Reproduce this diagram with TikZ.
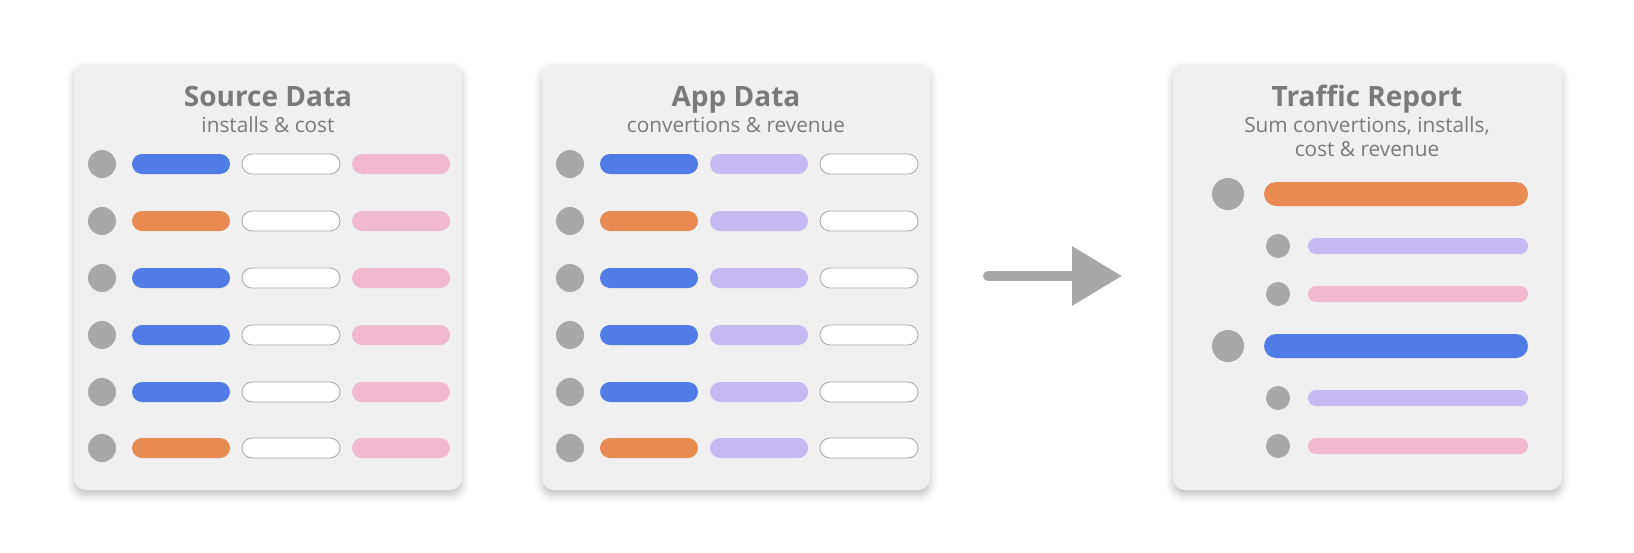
\documentclass[tikz,border=0pt]{standalone}
\usepackage{fontspec}
\setmainfont{Open Sans}
\usetikzlibrary{arrows.meta,shadows.blur}

\definecolor{panelbg}{HTML}{F0F0F0}
\definecolor{dotgray}{HTML}{A8A8A8}
\definecolor{textgray}{HTML}{7A7A7A}
\definecolor{barblue}{HTML}{517CE6}
\definecolor{barorange}{HTML}{E88A52}
\definecolor{barpink}{HTML}{F0B9CE}
\definecolor{barlilac}{HTML}{C4B9F0}

\tikzset{
  panel/.style={fill=panelbg, rounded corners=6pt,
    blur shadow={shadow xshift=0pt, shadow yshift=-2.5pt, shadow blur radius=4pt, shadow opacity=25}},
  title/.style={anchor=base, text=textgray, font=\fontsize{14}{17}\selectfont\bfseries, inner sep=0pt},
  subtitle/.style={anchor=base, text=textgray, font=\fontsize{10.4}{12}\selectfont, inner sep=0pt, align=center},
  dot/.style={circle, fill=dotgray, minimum size=14pt, inner sep=0pt},
  bigdot/.style={circle, fill=dotgray, minimum size=16pt, inner sep=0pt},
  smalldot/.style={circle, fill=dotgray, minimum size=12pt, inner sep=0pt},
  pill/.style={fill=#1, minimum width=49pt, minimum height=10pt, rounded corners=5pt, inner sep=0pt},
  emptypill/.style={fill=white, draw=dotgray, line width=0.4pt, minimum width=49pt, minimum height=10pt, rounded corners=5pt, inner sep=0pt},
  widepill/.style={fill=#1, minimum width=132pt, minimum height=12pt, rounded corners=6pt, inner sep=0pt},
  thinpill/.style={fill=#1, minimum width=110pt, minimum height=8pt, rounded corners=4pt, inner sep=0pt}
}

\begin{document}
\begin{tikzpicture}[x=0.5pt, y=-0.5pt]
  \useasboundingbox (0,0) rectangle (1634,552);

  % source data
  \fill[panel] (74,64) rectangle (462,490);
  \node[title] (srctitle) at (268,106) {Source Data};
  \node[subtitle] (srcsub) at (268,132) {installs \& cost};

  \node[dot] (s1d) at (102,164) {};
  \node[pill=barblue] (s1a) at (181,164) {};
  \node[emptypill] (s1b) at (291,164) {};
  \node[pill=barpink] (s1c) at (401,164) {};

  \node[dot] (s2d) at (102,221) {};
  \node[pill=barorange] (s2a) at (181,221) {};
  \node[emptypill] (s2b) at (291,221) {};
  \node[pill=barpink] (s2c) at (401,221) {};

  \node[dot] (s3d) at (102,278) {};
  \node[pill=barblue] (s3a) at (181,278) {};
  \node[emptypill] (s3b) at (291,278) {};
  \node[pill=barpink] (s3c) at (401,278) {};

  \node[dot] (s4d) at (102,335) {};
  \node[pill=barblue] (s4a) at (181,335) {};
  \node[emptypill] (s4b) at (291,335) {};
  \node[pill=barpink] (s4c) at (401,335) {};

  \node[dot] (s5d) at (102,392) {};
  \node[pill=barblue] (s5a) at (181,392) {};
  \node[emptypill] (s5b) at (291,392) {};
  \node[pill=barpink] (s5c) at (401,392) {};

  \node[dot] (s6d) at (102,448) {};
  \node[pill=barorange] (s6a) at (181,448) {};
  \node[emptypill] (s6b) at (291,448) {};
  \node[pill=barpink] (s6c) at (401,448) {};

  % app data
  \fill[panel] (542,64) rectangle (930,490);
  \node[title] (apptitle) at (736,106) {App Data};
  \node[subtitle] (appsub) at (736,132) {convertions \& revenue};

  \node[dot] (a1d) at (570,164) {};
  \node[pill=barblue] (a1a) at (649,164) {};
  \node[pill=barlilac] (a1b) at (759,164) {};
  \node[emptypill] (a1c) at (869,164) {};

  \node[dot] (a2d) at (570,221) {};
  \node[pill=barorange] (a2a) at (649,221) {};
  \node[pill=barlilac] (a2b) at (759,221) {};
  \node[emptypill] (a2c) at (869,221) {};

  \node[dot] (a3d) at (570,278) {};
  \node[pill=barblue] (a3a) at (649,278) {};
  \node[pill=barlilac] (a3b) at (759,278) {};
  \node[emptypill] (a3c) at (869,278) {};

  \node[dot] (a4d) at (570,335) {};
  \node[pill=barblue] (a4a) at (649,335) {};
  \node[pill=barlilac] (a4b) at (759,335) {};
  \node[emptypill] (a4c) at (869,335) {};

  \node[dot] (a5d) at (570,392) {};
  \node[pill=barblue] (a5a) at (649,392) {};
  \node[pill=barlilac] (a5b) at (759,392) {};
  \node[emptypill] (a5c) at (869,392) {};

  \node[dot] (a6d) at (570,448) {};
  \node[pill=barorange] (a6a) at (649,448) {};
  \node[pill=barlilac] (a6b) at (759,448) {};
  \node[emptypill] (a6c) at (869,448) {};

  % arrow
  \coordinate (arrfrom) at (988,276);
  \coordinate (arrto) at (1122,276);
  \draw[dotgray, line width=5pt, line cap=round, -{Triangle[length=25pt, width=28.5pt, sharp]}] (arrfrom) -- (arrto);

  % traffic report
  \fill[panel] (1173,64) rectangle (1562,490);
  \node[title] (reptitle) at (1367,106) {Traffic Report};
  \node[subtitle] (repsub) at (1367,156) {Sum convertions, installs,\\cost \& revenue};

  \node[bigdot] (r1d) at (1228,194) {};
  \node[widepill=barorange] (r1a) at (1396,194) {};
  \node[smalldot] (r1pd) at (1278,246) {};
  \node[thinpill=barlilac] (r1p) at (1418,246) {};
  \node[smalldot] (r1qd) at (1278,294) {};
  \node[thinpill=barpink] (r1q) at (1418,294) {};

  \node[bigdot] (r2d) at (1228,346) {};
  \node[widepill=barblue] (r2a) at (1396,346) {};
  \node[smalldot] (r2pd) at (1278,398) {};
  \node[thinpill=barlilac] (r2p) at (1418,398) {};
  \node[smalldot] (r2qd) at (1278,446) {};
  \node[thinpill=barpink] (r2q) at (1418,446) {};
\end{tikzpicture}
\end{document}
